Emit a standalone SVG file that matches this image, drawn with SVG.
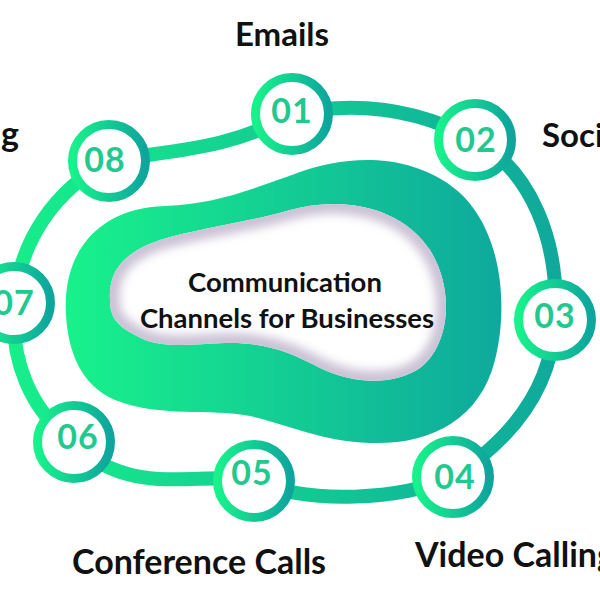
<svg xmlns="http://www.w3.org/2000/svg" width="600" height="600" viewBox="0 0 600 600">
  <defs>
    <linearGradient id="blobGrad" gradientUnits="userSpaceOnUse" x1="66" y1="0" x2="505" y2="0">
      <stop offset="0" stop-color="#18f28b"/>
      <stop offset="1" stop-color="#0ea89d"/>
    </linearGradient>
    <linearGradient id="ringPathGrad" gradientUnits="userSpaceOnUse" x1="0" y1="0" x2="570" y2="0">
      <stop offset="0" stop-color="#17f08a"/>
      <stop offset="1" stop-color="#0fa79c"/>
    </linearGradient>
    <linearGradient id="nodeGrad" x1="0" y1="0" x2="1" y2="0">
      <stop offset="0" stop-color="#18f28b"/>
      <stop offset="1" stop-color="#0ea59d"/>
    </linearGradient>
    <clipPath id="innerClip">
      <path id="innerShape" d="M 110 300 C 108 270, 125 252, 160 240 C 200 228, 250 222, 290 210 C 340 196, 400 205, 430 250 C 455 290, 450 345, 420 368 C 395 385, 355 385, 320 368 C 290 352, 265 342, 225 343 C 190 344, 160 350, 135 335 C 115 325, 110 315, 110 300 Z"/>
    </clipPath>
    <filter id="soft" x="-20%" y="-20%" width="140%" height="140%">
      <feGaussianBlur stdDeviation="5"/>
    </filter>
  </defs>
  <style>
    .label { font-family: Lato, "Liberation Sans", sans-serif; font-weight: 700; fill: #111111; }
    .num { font-family: Lato, "Liberation Sans", sans-serif; font-weight: 700; font-size: 34px; fill: #22c98f; text-anchor: middle; letter-spacing: 1px; }
    .ring { fill: #ffffff; stroke: url(#nodeGrad); stroke-width: 9; }
  </style>
  <rect width="600" height="600" fill="#ffffff"/>

  <g id="connectors">
    <path d="M 109 161 C 170 150, 230 150, 292 114 C 360 100, 420 110, 475 140 C 530 170, 560 240, 555 320 C 552 390, 510 440, 453 477 C 400 500, 310 505, 254 481 C 200 470, 130 500, 73 442 C 30 410, 10 360, 14 303 C 20 240, 55 190, 109 161 Z" fill="none" stroke="url(#ringPathGrad)" stroke-width="14"/>
  </g>

  <g id="center">
    <path d="M 66 315 C 62 250, 100 208, 165 206 C 215 204, 250 190, 300 172 C 340 158, 400 150, 450 185 C 500 220, 510 300, 495 360 C 480 420, 430 445, 370 443 C 320 441, 290 425, 250 416 C 210 408, 160 418, 115 400 C 80 385, 68 350, 66 315 Z" fill="url(#blobGrad)"/>
    <g clip-path="url(#innerClip)">
      <rect x="100" y="190" width="360" height="210" fill="#ffffff"/>
      <use href="#innerShape" fill="none" stroke="#cbc2d6" stroke-width="20" filter="url(#soft)"/>
    </g>
    <text class="label" x="285" y="292" font-size="27.5" text-anchor="middle">Communication</text>
    <text class="label" x="287" y="328" font-size="27.5" text-anchor="middle">Channels for Businesses</text>
  </g>

  <g id="node01"><circle class="ring" cx="292" cy="114" r="36.5"/><text class="num" x="292" y="123">01</text></g>
  <g id="node02"><circle class="ring" cx="475" cy="140" r="36.5"/><text class="num" x="476" y="152">02</text></g>
  <g id="node03"><circle class="ring" cx="555" cy="320" r="36.5"/><text class="num" x="555" y="328">03</text></g>
  <g id="node04"><circle class="ring" cx="453" cy="477" r="36.5"/><text class="num" x="455" y="489">04</text></g>
  <g id="node05"><circle class="ring" cx="254" cy="481" r="36.5"/><text class="num" x="252" y="485">05</text></g>
  <g id="node06"><circle class="ring" cx="74" cy="442" r="36.5"/><text class="num" x="78" y="449">06</text></g>
  <g id="node07"><circle class="ring" cx="14" cy="303" r="36.5"/><text class="num" x="14" y="315">07</text></g>
  <g id="node08"><circle class="ring" cx="109" cy="161" r="36.5"/><text class="num" x="105" y="172">08</text></g>

  <g id="labels">
    <text class="label" x="282" y="46" font-size="33" text-anchor="middle">Emails</text>
    <text class="label" x="542" y="147" font-size="33">Soci</text>
    <text class="label" x="19" y="146" font-size="34" text-anchor="end">ng</text>
    <text class="label" x="415" y="567" font-size="34">Video Calling</text>
    <text class="label" x="72" y="574" font-size="34">Conference Calls</text>
  </g>
</svg>
